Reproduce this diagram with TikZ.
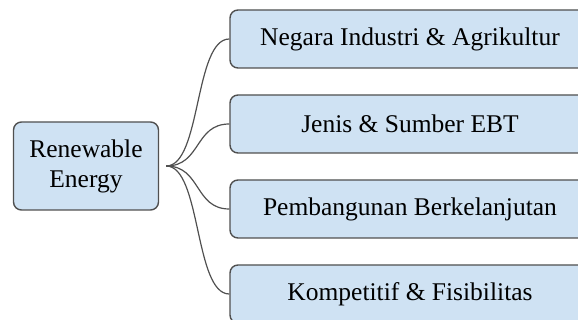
\documentclass[tikz,border=0pt]{standalone}
\usepackage{fontspec}
\newfontfamily\topicfont{Liberation Serif}
\definecolor{boxfill}{HTML}{CFE2F3}
\definecolor{boxline}{HTML}{505050}
\begin{document}
\begin{tikzpicture}[x=1pt, y=-1pt]
  \useasboundingbox (0, 0) rectangle (578, 320);
  \clip (0, 0) rectangle (578, 320);
  \tikzstyle{topic}=[draw=boxline, line width=1.4pt, fill=boxfill, rounded corners=8pt,
    font=\topicfont\fontsize{25.5}{30}\selectfont, inner sep=0pt, align=center]
  \tikzstyle{root}=[minimum width=145pt, minimum height=88pt]
  \tikzstyle{branch}=[minimum width=360pt, minimum height=58pt]
  \tikzstyle{link}=[draw=boxline, line width=1.2pt]

  \node[topic, root]   (energy)   at (86,  166) {Renewable\\Energy};
  \node[topic, branch] (negara)   at (410, 39)  {Negara Industri \& Agrikultur};
  \node[topic, branch] (jenis)    at (410, 124) {Jenis \& Sumber EBT};
  \node[topic, branch] (bangun)   at (410, 209) {Pembangunan Berkelanjutan};
  \node[topic, branch] (kompetisi) at (410, 294) {Kompetitif \& Fisibilitas};

  \coordinate (fork) at ([xshift=7pt]energy.east);

  \path[link] (fork) .. controls +(35, 0) and +(-35, 0) .. (negara.west);
  \path[link] (fork) .. controls +(35, 0) and +(-35, 0) .. (jenis.west);
  \path[link] (fork) .. controls +(35, 0) and +(-35, 0) .. (bangun.west);
  \path[link] (fork) .. controls +(35, 0) and +(-35, 0) .. (kompetisi.west);
\end{tikzpicture}
\end{document}
